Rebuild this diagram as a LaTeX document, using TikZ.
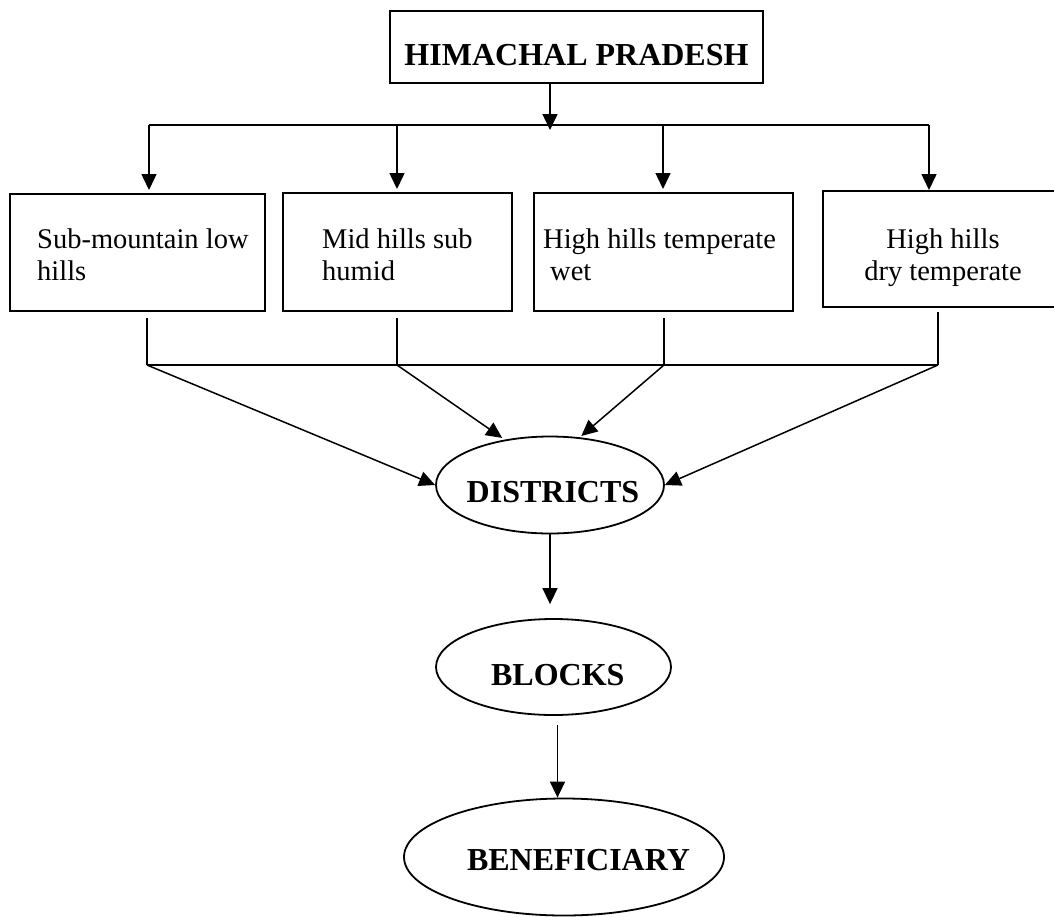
\documentclass[tikz,border=0pt]{standalone}
\usepackage{fontspec}
\setmainfont{Liberation Serif}
\usetikzlibrary{arrows.meta,shapes.geometric,calc}
\begin{document}
\begin{tikzpicture}[x=1pt,y=-1pt,
  zonebox/.style={draw,line width=2pt,inner sep=0pt},
  zonetext/.style={inner sep=0pt,align=left,font=\fontsize{28.5}{32}\selectfont},
  bold/.style={font=\fontsize{32}{38}\selectfont\bfseries,text depth=0pt},
  oval/.style={ellipse,draw,line width=1.8pt,inner sep=0pt,bold},
  link/.style={line width=1.5pt},
  arr/.style={link,-{Triangle[length=16pt,width=15pt]}}
]
\clip (0,0) rectangle (1054,916);
\fill[white] (0,0) rectangle (1054,916);

% top box
\node[zonebox,bold,minimum width=373pt,minimum height=72pt,text height=37.4pt] (hp) at (576.5,47) {HIMACHAL PRADESH};

% zone boxes
\node[zonebox,minimum width=255pt,minimum height=117pt] (z1) at (137.5,252.5) {};
\node[zonebox,minimum width=229pt,minimum height=118pt] (z2) at (397.5,252) {};
\node[zonebox,minimum width=259pt,minimum height=118pt] (z3) at (663.5,252) {};
\node[zonebox,minimum width=239pt,minimum height=116pt] (z4) at (942.5,249) {};

\node[zonetext,anchor=north west] (z1t) at (37,228.5) {Sub-mountain low\\hills};
\node[zonetext,anchor=north west] (z2t) at (322,228.5) {Mid hills sub\\humid};
\node[zonetext,anchor=north west] (z3t) at (543,228.5) {High hills temperate\\\hspace*{7pt}wet};
\node[zonetext,anchor=north,align=center] (z4t) at (943,228.5) {High hills\\dry temperate};

% ovals
\node[oval,minimum width=228pt,minimum height=97pt,text height=35.2pt] (dist) at (550,485) {\makebox[0pt]{\hspace*{6pt}DISTRICTS}};
\node[oval,minimum width=235pt,minimum height=96pt,text height=37.4pt] (blk) at (553.5,667) {\makebox[0pt]{\hspace*{8.6pt}BLOCKS}};
\node[oval,minimum width=320pt,minimum height=117pt,text height=26pt] (ben) at (564,857) {\makebox[0pt]{\hspace*{29pt}BENEFICIARY}};

% top distribution
\coordinate (hub) at (550,125);
\coordinate (t1) at (149,125);
\coordinate (t2) at (397,125);
\coordinate (t3) at (663,125);
\coordinate (t4) at (929,125);
\draw[link] (t1) -- (t4);
\draw[arr] (hp.south -| hub) -- ($(hub)+(0,5)$);
\draw[arr,shorten >=3pt] (t1) -- (t1 |- z1.north);
\draw[arr,shorten >=3pt] (t2) -- (t2 |- z2.north);
\draw[arr,shorten >=3pt] (t3) -- (t3 |- z3.north);
\draw[arr] (t4) -- (t4 |- z4.north);

% bottom collection
\coordinate (b1) at (147,365);
\coordinate (b2) at (397,365);
\coordinate (b3) at (664,365);
\coordinate (b4) at (938,365);
\draw[link] (b1) -- (b4);
\draw[link] ($(b1 |- z1.south)+(0,6)$) -- (b1);
\draw[link] ($(b2 |- z2.south)+(0,6)$) -- (b2);
\draw[link] ($(b3 |- z3.south)+(0,6)$) -- (b3);
\draw[link] ($(b4 |- z4.south)+(0,4)$) -- (b4);

\draw[arr] (b1) -- (dist.west);
\draw[arr,shorten >=3pt] (b2) -- (dist.135);
\draw[arr,shorten >=2pt] (b3) -- (dist.58);
\draw[arr] (b4) -- (dist.east);

% chain
\draw[arr,shorten >=14pt] (dist.south) -- (dist.south |- blk.north);
\coordinate (bb) at (557.5,725);
\draw[arr] (bb) -- (bb |- ben.north);
\end{tikzpicture}
\end{document}
